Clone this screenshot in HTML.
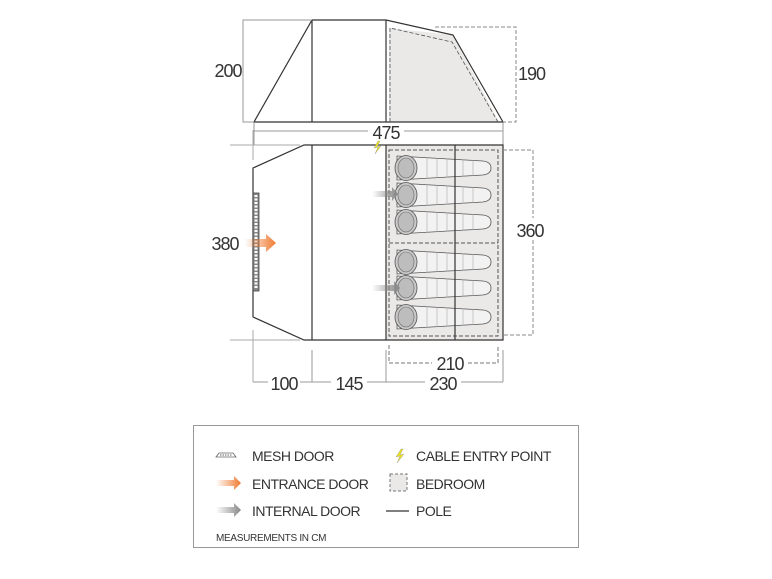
<!DOCTYPE html>
<html><head><style>
html,body{margin:0;padding:0;background:#fff;}
svg{display:block;}
text{font-family:"Liberation Sans",sans-serif;fill:#333;}
.n{font-size:18px;letter-spacing:-1px;}
.l{font-size:14px;letter-spacing:-0.5px;}
</style></head><body>
<svg width="772" height="579" viewBox="0 0 772 579" xmlns="http://www.w3.org/2000/svg">
<defs>
<linearGradient id="og" x1="0" x2="1"><stop offset="0" stop-color="#f07a30" stop-opacity="0"/><stop offset="1" stop-color="#f07a30"/></linearGradient>
<linearGradient id="gg" x1="0" x2="1"><stop offset="0" stop-color="#888" stop-opacity="0"/><stop offset="1" stop-color="#888"/></linearGradient>
<g id="sb">
<path d="M0,-12 L86,-7 Q94,-6 94,0 Q94,6 86,7 L0,12 Z" fill="#f2f2f2" stroke="#555" stroke-width="0.8"/>
<path d="M30,-10.5 V10.5 M40,-10 V10 M50,-9.5 V9.5 M66,-8.5 V8.5 M76,-8 V8" stroke="#aaa" stroke-width="0.6"/>
<ellipse cx="9" cy="0" rx="11" ry="12.5" fill="#c8c8c8" stroke="#555" stroke-width="0.8"/>
<ellipse cx="9" cy="0" rx="8" ry="10" fill="#bdbdbd" stroke="#666" stroke-width="0.6"/>
</g>
</defs>
<g stroke="#333" stroke-width="1.2" fill="none">
<path d="M389,28 L453,35 L499,122 L389,122 Z" fill="#ebe9e8" stroke="none"/>
<path d="M254,122 L312,20 L386,20 L453,35 L503,122 Z"/>
<line x1="312" y1="20" x2="312" y2="122"/>
<line x1="386" y1="20" x2="386" y2="122"/>
</g>
<path d="M390,122 L390,28 L452,42 L498,122" stroke="#555" stroke-dasharray="4,2" fill="none" stroke-width="0.8"/>
<path d="M435,27 H516 V122 H503" stroke="#888" stroke-dasharray="4,2" fill="none"/>
<path d="M312,20 H243 V122 H254" stroke="#999" fill="none"/>
<text x="228" y="77" class="n" text-anchor="middle">200</text>
<text x="518" y="80" class="n">190</text>
<path d="M254,122 V145 M503,122 V145 M254,131 H368 M404,131 H503" stroke="#999" fill="none"/>
<text x="386" y="139" class="n" text-anchor="middle">475</text>
<rect x="386" y="145" width="117" height="195" fill="#ebe9e8"/>
<g stroke="#333" stroke-width="1.2" fill="none">
<path d="M253,168 L304,145 L503,145 L503,340 L304,340 L253,317 Z"/>
<line x1="312" y1="145" x2="312" y2="340"/>
<line x1="386" y1="145" x2="386" y2="340"/>
</g>
<rect x="389" y="150" width="109" height="186" stroke="#555" stroke-dasharray="4,2" fill="none"/>
<line x1="389" y1="243" x2="498" y2="243" stroke="#555" stroke-dasharray="4,2"/>
<use href="#sb" x="397" y="168"/>
<use href="#sb" x="397" y="195"/>
<use href="#sb" x="397" y="222"/>
<use href="#sb" x="397" y="262"/>
<use href="#sb" x="397" y="288"/>
<use href="#sb" x="397" y="317"/>
<line x1="455" y1="145" x2="455" y2="340" stroke="#333" stroke-width="1.2"/>
<rect x="253" y="193" width="6" height="98" fill="#888" stroke="#444" stroke-width="0.8"/>
<path d="M256,195 V289" stroke="#fff" stroke-width="3" stroke-dasharray="2,1.5"/>
<path d="M245,239 H266 V234 L276,243 L266,252 V247 H245 Z" fill="url(#og)"/>
<path d="M372,191 H392 V187 L398,194 L392,201 V197 H372 Z" fill="url(#gg)"/>
<path d="M372,285 H394 V281 L400,288 L394,295 V291 H372 Z" fill="url(#gg)"/>
<path d="M378,141 L374,148 L378,147 L375,154 L381,146 L377,147 L380,141 Z" fill="#e8e020" stroke="#999" stroke-width="0.4"/>
<path d="M503,150 H533 V335 H503" stroke="#888" stroke-dasharray="4,2" fill="none"/>
<rect x="512" y="218" width="38" height="22" fill="#fff"/>
<text x="530" y="237" class="n" text-anchor="middle">360</text>
<path d="M300,145 H230 M300,340 H230 M253,130 V160 M253,330 V382" stroke="#aaa" fill="none"/>
<text x="225" y="250" class="n" text-anchor="middle">380</text>
<path d="M389,345 V363 H432 M468,363 H498 V345" stroke="#777" stroke-dasharray="4,2" fill="none"/>
<text x="450" y="370" class="n" text-anchor="middle">210</text>
<path d="M253,382 H268 M300,382 H331 M367,382 H425 M461,382 H503 M312,350 V382 M386,350 V382 M503,350 V382" stroke="#999" fill="none"/>
<text x="284" y="390" class="n" text-anchor="middle">100</text>
<text x="349" y="390" class="n" text-anchor="middle">145</text>
<text x="443" y="390" class="n" text-anchor="middle">230</text>
<rect x="193.5" y="425.5" width="385" height="122" fill="#fff" stroke="#999"/>
<path d="M216,457 L219,453 H233 L236,457 Z" fill="none" stroke="#666" stroke-width="0.8"/>
<path d="M220,455 H232" stroke="#666" stroke-dasharray="1.5,1"/>
<text x="252" y="461" class="l">MESH DOOR</text>
<path d="M401,449 L396,457 L400,456 L397,463 L404,454 L400,455 L403,449 Z" fill="#e8e020" stroke="#999" stroke-width="0.4"/>
<text x="416" y="461" class="l">CABLE ENTRY POINT</text>
<path d="M216,480 H234 V476 L241,483 L234,490 V486 H216 Z" fill="url(#og)"/>
<text x="252" y="489" class="l">ENTRANCE DOOR</text>
<rect x="390" y="474" width="17" height="17" fill="#ebe9e8" stroke="#777" stroke-dasharray="3,2"/>
<text x="416" y="489" class="l">BEDROOM</text>
<path d="M216,507 H234 V503 L241,510 L234,517 V513 H216 Z" fill="url(#gg)"/>
<text x="252" y="516" class="l">INTERNAL DOOR</text>
<line x1="386" y1="511" x2="409" y2="511" stroke="#333" stroke-width="1.2"/>
<text x="416" y="516" class="l">POLE</text>
<text x="216" y="541" font-size="10" letter-spacing="-0.3">MEASUREMENTS IN CM</text>
</svg>
</body></html>
